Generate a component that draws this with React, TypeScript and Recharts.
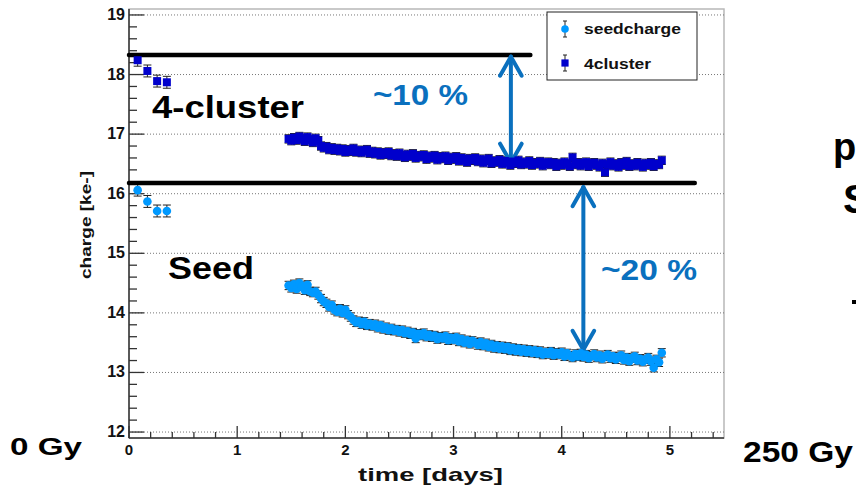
import React from "react"
import { ScatterChart, Scatter, XAxis, YAxis, ErrorBar, ReferenceLine, ReferenceArea } from "recharts"

// time in days, charge in ke-
const earlyTimes = [0.08, 0.17, 0.26, 0.35]
const earlyCluster = [18.24, 18.06, 17.89, 17.87]
const earlySeed = [16.06, 15.87, 15.71, 15.71]

const runTimes = [
  1.475, 1.5, 1.525, 1.55, 1.575, 1.6, 1.625, 1.65, 1.675, 1.7,
  1.725, 1.75, 1.775, 1.8, 1.825, 1.85, 1.875, 1.9, 1.925, 1.95,
  1.975, 2, 2.025, 2.05, 2.075, 2.1, 2.125, 2.15, 2.175, 2.2,
  2.225, 2.25, 2.275, 2.3, 2.325, 2.35, 2.375, 2.4, 2.425, 2.45,
  2.475, 2.5, 2.525, 2.55, 2.575, 2.6, 2.625, 2.65, 2.675, 2.7,
  2.725, 2.75, 2.775, 2.8, 2.825, 2.85, 2.875, 2.9, 2.925, 2.95,
  2.975, 3, 3.025, 3.05, 3.075, 3.1, 3.125, 3.15, 3.175, 3.2,
  3.225, 3.25, 3.275, 3.3, 3.325, 3.35, 3.375, 3.4, 3.425, 3.45,
  3.475, 3.5, 3.525, 3.55, 3.575, 3.6, 3.625, 3.65, 3.675, 3.7,
  3.725, 3.75, 3.775, 3.8, 3.825, 3.85, 3.875, 3.9, 3.925, 3.95,
  3.975, 4, 4.025, 4.05, 4.075, 4.1, 4.125, 4.15, 4.175, 4.2,
  4.225, 4.25, 4.275, 4.3, 4.325, 4.35, 4.375, 4.4, 4.425, 4.45,
  4.475, 4.5, 4.525, 4.55, 4.575, 4.6, 4.625, 4.65, 4.675, 4.7,
  4.725, 4.75, 4.775, 4.8, 4.825, 4.85, 4.875, 4.9, 4.925,
]
const runCluster = [
  16.92, 16.89, 16.94, 16.9, 16.96, 16.92, 16.88, 16.95, 16.91, 16.86,
  16.93, 16.89, 16.8, 16.77, 16.79, 16.74, 16.77, 16.73, 16.76, 16.72,
  16.75, 16.7, 16.74, 16.71, 16.76, 16.7, 16.73, 16.69, 16.72, 16.74,
  16.68, 16.71, 16.67, 16.7, 16.65, 16.69, 16.66, 16.7, 16.64, 16.67,
  16.63, 16.68, 16.64, 16.61, 16.66, 16.63, 16.67, 16.6, 16.64, 16.62,
  16.65, 16.58, 16.63, 16.6, 16.64, 16.57, 16.62, 16.59, 16.63, 16.56,
  16.61, 16.58, 16.62, 16.55, 16.6, 16.57, 16.53, 16.59, 16.56, 16.6,
  16.54, 16.58, 16.52, 16.56, 16.59, 16.51, 16.55, 16.53, 16.57, 16.5,
  16.55, 16.52, 16.48, 16.54, 16.51, 16.56, 16.49, 16.53, 16.5, 16.55,
  16.48, 16.52, 16.5, 16.54, 16.47, 16.51, 16.53, 16.49, 16.52, 16.46,
  16.51, 16.48, 16.53, 16.5, 16.46, 16.61, 16.49, 16.52, 16.47, 16.5,
  16.53, 16.46, 16.5, 16.52, 16.48, 16.45, 16.51, 16.36, 16.49, 16.53,
  16.47, 16.5, 16.45, 16.52, 16.48, 16.54, 16.46, 16.5, 16.47, 16.52,
  16.49, 16.45, 16.51, 16.48, 16.52, 16.46, 16.5, 16.49, 16.56,
]
const runSeed = [
  14.46, 14.42, 14.48, 14.4, 14.5, 14.45, 14.38, 14.47, 14.36, 14.34,
  14.36, 14.3, 14.24, 14.19, 14.16, 14.1, 14.13, 14.05, 14.02, 14.07,
  14.0, 14.05, 13.97, 13.93, 13.88, 13.84, 13.86, 13.81, 13.85, 13.79,
  13.82, 13.78, 13.81, 13.75, 13.79, 13.73, 13.76, 13.71, 13.74, 13.7,
  13.72, 13.68, 13.71, 13.66, 13.69, 13.64, 13.67, 13.57, 13.65, 13.62,
  13.66, 13.6, 13.63, 13.59, 13.62, 13.56, 13.6, 13.57, 13.61, 13.54,
  13.58, 13.55, 13.59, 13.52, 13.56, 13.5, 13.54, 13.48, 13.53, 13.5,
  13.46, 13.51, 13.45, 13.49, 13.43, 13.47, 13.41, 13.45, 13.4, 13.44,
  13.39, 13.43, 13.37, 13.41, 13.36, 13.4, 13.35, 13.39, 13.34, 13.38,
  13.33, 13.37, 13.32, 13.36, 13.3, 13.34, 13.31, 13.35, 13.29, 13.33,
  13.3, 13.34, 13.27, 13.32, 13.28, 13.25, 13.31, 13.27, 13.32, 13.26,
  13.3, 13.24, 13.28, 13.31, 13.25, 13.29, 13.23, 13.27, 13.3, 13.24,
  13.27, 13.22, 13.26, 13.29, 13.21, 13.25, 13.19, 13.24, 13.27, 13.2,
  13.23, 13.18, 13.22, 13.25, 13.19, 13.08, 13.22, 13.17, 13.33,
]
const earlyErr = 0.1
const runErr = 0.07

const xTicks = [
  0, 0.2, 0.4, 0.6, 0.8, 1, 1.2, 1.4, 1.6, 1.8, 2, 2.2, 2.4, 2.6, 2.8, 3, 3.2, 3.4, 3.6, 3.8, 4, 4.2, 4.4, 4.6,
  4.8, 5, 5.2, 5.4,
]
const yTicks = [
  12, 12.2, 12.4, 12.6, 12.8, 13, 13.2, 13.4, 13.6, 13.8, 14, 14.2, 14.4, 14.6, 14.8, 15, 15.2, 15.4, 15.6, 15.8,
  16, 16.2, 16.4, 16.6, 16.8, 17, 17.2, 17.4, 17.6, 17.8, 18, 18.2, 18.4, 18.6, 18.8, 19,
]
const yGrid = [12, 13, 14, 15, 16, 17, 18, 19]
const xDomain = [0, 5.5]
const yDomain = [11.9, 19.1]

// annotation levels (black bars) and arrows, in data units
const clusterLevel = { y: 18.33, from: 0, to: 3.71 }
const seedLevel = { y: 16.18, from: 0, to: 5.23 }
const arrowX = [3.53, 4.2]
const arrowTop = [18.3, 16.11]
const arrowBottom = [16.52, 13.38]

const build = (ts: number[], vs: number[], e: number) => ts.map((t, i) => ({ t, v: vs[i], e }))
const clusterData = [...build(earlyTimes, earlyCluster, earlyErr), ...build(runTimes, runCluster, runErr)]
const seedData = [...build(earlyTimes, earlySeed, earlyErr), ...build(runTimes, runSeed, runErr)]

const W = 856
const H = 491
const AXIS = "#333"
const BLUE = "#0A70BE"
const SEED = "#0099FF"
const CLUSTER = "#0000CC"
const FONT = "'Liberation Sans', Arial, sans-serif"

const XTick = (p: any) => {
  const major = Number.isInteger(p.payload.value)
  return (
    <g>
      <line x1={p.x} x2={p.x} y1={p.y} y2={p.y - (major ? 12 : 6)} stroke={AXIS} strokeWidth={1.3} />
      {major && (
        <text x={p.x} y={p.y + 17} textAnchor="middle" fontSize={15} fontWeight={700} fontFamily={FONT} fill="#111">
          {p.payload.value}
        </text>
      )}
    </g>
  )
}

const YTick = (p: any) => {
  const major = Number.isInteger(p.payload.value)
  return (
    <g>
      <line x1={p.x} x2={p.x + (major ? 15 : 8)} y1={p.y} y2={p.y} stroke={AXIS} strokeWidth={1.3} />
      {major && (
        <text x={p.x - 4} y={p.y + 5} textAnchor="end" fontSize={16} fontWeight={700} fontFamily={FONT} fill="#111">
          {p.payload.value}
        </text>
      )}
    </g>
  )
}

const seg = (x1: number, y1: number, x2: number, y2: number, color: string, w: number, key: string) => (
  <ReferenceLine
    key={key}
    segment={[{ x: x1, y: y1 }, { x: x2, y: y2 }]}
    stroke={color}
    strokeWidth={w}
    strokeLinecap="round"
    ifOverflow="visible"
  />
)

const noMark = () => <g />

export default function App() {
  const headDx = 0.1
  const headDy = 0.32
  return (
    <div style={{ position: "relative", width: W, height: H, background: "#fff" }}>
      <style>{`body{margin:0}`}</style>
      {/* bottom layer: frame, axes, grid and error bars */}
      <ScatterChart width={W} height={H} margin={{ top: 9, right: 132, bottom: 13, left: 79 }}>
        <XAxis
          type="number"
          dataKey="t"
          domain={xDomain}
          ticks={xTicks}
          interval={0}
          allowDataOverflow
          height={40}
          tickSize={0}
          tickMargin={0}
          tick={<XTick />}
          axisLine={{ stroke: AXIS, strokeWidth: 1.5 }}
        />
        <YAxis
          type="number"
          dataKey="v"
          domain={yDomain}
          ticks={yTicks}
          interval={0}
          allowDataOverflow
          width={50}
          tickSize={0}
          tickMargin={0}
          tick={<YTick />}
          axisLine={{ stroke: AXIS, strokeWidth: 1.5 }}
        />
        <ReferenceArea x1={0} x2={5.5} y1={11.9} y2={19.1} fill="none" stroke="#b8b8b8" strokeWidth={1.5} />
        {yGrid.map((y) => (
          <ReferenceLine key={"g" + y} y={y} stroke="#777" strokeDasharray="1 2" />
        ))}
        <Scatter data={seedData} shape={noMark} isAnimationActive={false} legendType="none">
          <ErrorBar dataKey="e" direction="y" width={4} stroke="#222" strokeWidth={1} />
        </Scatter>
        <Scatter data={clusterData} shape={noMark} isAnimationActive={false} legendType="none">
          <ErrorBar dataKey="e" direction="y" width={4} stroke="#222" strokeWidth={1} />
        </Scatter>
      </ScatterChart>

      {/* top layer: markers and annotation lines, same plot box and scales */}
      <div style={{ position: "absolute", left: 0, top: 0 }}>
        <ScatterChart width={W} height={H} margin={{ top: 9, right: 132, bottom: 53, left: 129 }}>
          <XAxis type="number" dataKey="t" domain={xDomain} allowDataOverflow hide />
          <YAxis type="number" dataKey="v" domain={yDomain} allowDataOverflow hide />
          <Scatter
            name="seedcharge"
            data={seedData}
            fill={SEED}
            shape={(p: any) => <circle cx={p.cx} cy={p.cy} r={4.3} fill={SEED} />}
            isAnimationActive={false}
          />
          <Scatter
            name="4cluster"
            data={clusterData}
            fill={CLUSTER}
            shape={(p: any) => <rect x={p.cx - 4} y={p.cy - 4} width={8} height={8} fill={CLUSTER} />}
            isAnimationActive={false}
          />
          {seg(clusterLevel.from, clusterLevel.y, clusterLevel.to, clusterLevel.y, "#000", 4.5, "l1")}
          {seg(seedLevel.from, seedLevel.y, seedLevel.to, seedLevel.y, "#000", 4.5, "l2")}
          {arrowX.map((x, i) => [
            seg(x, arrowTop[i], x, arrowBottom[i], BLUE, 4, "s" + i),
            seg(x, arrowTop[i], x - headDx, arrowTop[i] - headDy, BLUE, 4, "ta" + i),
            seg(x, arrowTop[i], x + headDx, arrowTop[i] - headDy, BLUE, 4, "tb" + i),
            seg(x, arrowBottom[i], x - headDx, arrowBottom[i] + headDy, BLUE, 4, "ba" + i),
            seg(x, arrowBottom[i], x + headDx, arrowBottom[i] + headDy, BLUE, 4, "bb" + i),
          ])}
        </ScatterChart>
      </div>

      <svg
        width={W}
        height={H}
        style={{ position: "absolute", left: 0, top: 0, pointerEvents: "none" }}
        fontFamily={FONT}
        fontWeight={700}
      >
        {/* legend */}
        <rect x={547} y={12} width={150} height={68} fill="#fff" stroke="#222" strokeWidth={1} />
        <line x1={565} x2={565} y1={21} y2={37} stroke="#222" />
        <line x1={563} x2={567} y1={21} y2={21} stroke="#222" />
        <line x1={563} x2={567} y1={37} y2={37} stroke="#222" />
        <circle cx={565} cy={29} r={3.8} fill={SEED} />
        <text x={584} y={34} fontSize={15} textLength={97} lengthAdjust="spacingAndGlyphs" fill="#111">
          seedcharge
        </text>
        <line x1={565} x2={565} y1={55} y2={71} stroke="#222" />
        <line x1={563} x2={567} y1={55} y2={55} stroke="#222" />
        <line x1={563} x2={567} y1={71} y2={71} stroke="#222" />
        <rect x={561.4} y={59.4} width={7.2} height={7.2} fill={CLUSTER} />
        <text x={584} y={69} fontSize={15} textLength={67} lengthAdjust="spacingAndGlyphs" fill="#111">
          4cluster
        </text>

        {/* axis titles */}
        <text x={358} y={481} fontSize={19} textLength={145} lengthAdjust="spacingAndGlyphs" fill="#111">
          time [days]
        </text>
        <text
          transform="translate(91 225) rotate(-90)"
          textAnchor="middle"
          fontSize={14}
          textLength={108}
          lengthAdjust="spacingAndGlyphs"
          fill="#111"
        >
          charge [ke-]
        </text>

        {/* slide annotations */}
        <text x={152} y={118} fontSize={32} textLength={152} lengthAdjust="spacingAndGlyphs" fill="#000">
          4-cluster
        </text>
        <text x={168} y={279} fontSize={31} textLength={86} lengthAdjust="spacingAndGlyphs" fill="#000">
          Seed
        </text>
        <text x={373} y={105} fontSize={30} textLength={95} lengthAdjust="spacingAndGlyphs" fill={BLUE}>
          ~10 %
        </text>
        <text x={601} y={280} fontSize={30} textLength={96} lengthAdjust="spacingAndGlyphs" fill={BLUE}>
          ~20 %
        </text>
        <text x={10} y={455} fontSize={24} textLength={72} lengthAdjust="spacingAndGlyphs" fill="#000">
          0 Gy
        </text>
        <text x={743} y={462} fontSize={30} textLength={110} lengthAdjust="spacingAndGlyphs" fill="#000">
          250 Gy
        </text>
        <text x={833} y={160} fontSize={38} fill="#000">
          p
        </text>
        <text x={843} y={213} fontSize={41} fill="#000">
          S
        </text>
        <rect x={852} y={300} width={4} height={4} fill="#000" />
      </svg>
    </div>
  )
}
